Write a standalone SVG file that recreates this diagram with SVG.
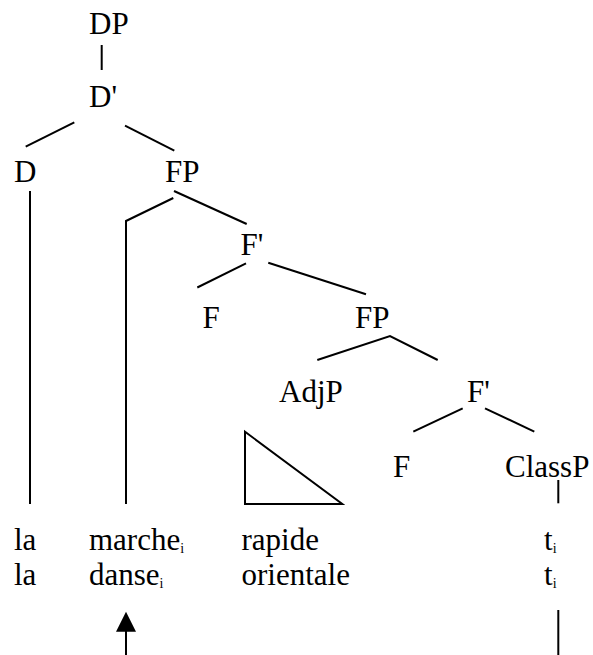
<svg xmlns="http://www.w3.org/2000/svg" width="593" height="655" viewBox="0 0 593 655">
<style>
.ln{stroke:#000;stroke-width:2;fill:none}
.sub{font-size:14px}
</style>
<rect width="593" height="655" fill="#fff"/>
<g id="connectors">
<line class="ln" x1="101.7" y1="45" x2="101.7" y2="70"/>
<line class="ln" x1="74.3" y1="122.3" x2="25.7" y2="146.7"/>
<line class="ln" x1="125" y1="125.7" x2="174.3" y2="150.7"/>
<line class="ln" x1="30" y1="191" x2="30" y2="504"/>
<polyline class="ln" points="173.3,198 126,221 126,504"/>
<line class="ln" x1="174" y1="191" x2="246.7" y2="224"/>
<line class="ln" x1="246" y1="263.3" x2="197.3" y2="287.5"/>
<line class="ln" x1="268.3" y1="262.7" x2="366" y2="294.3"/>
<polyline class="ln" points="317.3,360 390,336 437.7,360"/>
<line class="ln" x1="462.7" y1="408.3" x2="413.3" y2="431.7"/>
<line class="ln" x1="485" y1="408.3" x2="534.3" y2="431.7"/>
<line class="ln" x1="558.3" y1="480" x2="558.3" y2="503.3"/>
<polygon class="ln" points="245,431.7 245,504 342.3,504"/>
<line class="ln" x1="126" y1="655" x2="126" y2="630"/>
<polygon points="126,611.7 116,631.7 136,631.7" fill="#000"/>
<line class="ln" x1="558.3" y1="610" x2="558.3" y2="655"/>
</g>
<g font-family="Liberation Serif, Times New Roman, DejaVu Serif, serif" font-size="31" fill="#000">
<g id="DP"><text x="89" y="34">DP</text></g>
<g id="Dbar"><text x="89" y="107">D'</text></g>
<g id="D"><text x="14" y="182">D</text></g>
<g id="FP1"><text x="165" y="182">FP</text></g>
<g id="Fbar1"><text x="240.5" y="255">F'</text></g>
<g id="F1"><text x="202.5" y="328">F</text></g>
<g id="FP2"><text x="355" y="328">FP</text></g>
<g id="AdjP"><text x="279" y="402">AdjP</text></g>
<g id="Fbar2"><text x="467" y="402">F'</text></g>
<g id="F2"><text x="393" y="477">F</text></g>
<g id="ClassP"><text x="505" y="477">ClassP</text></g>
<g id="words">
<text x="14" y="550">la</text>
<text x="14" y="585">la</text>
<text x="89" y="550">marche<tspan class="sub" dy="3">i</tspan></text>
<text x="89" y="585">danse<tspan class="sub" dy="3">i</tspan></text>
<text x="241.5" y="550">rapide</text>
<text x="241.5" y="585">orientale</text>
<text x="544" y="550">t<tspan class="sub" dy="3">i</tspan></text>
<text x="544" y="585">t<tspan class="sub" dy="3">i</tspan></text>
</g>
</g>
</svg>
